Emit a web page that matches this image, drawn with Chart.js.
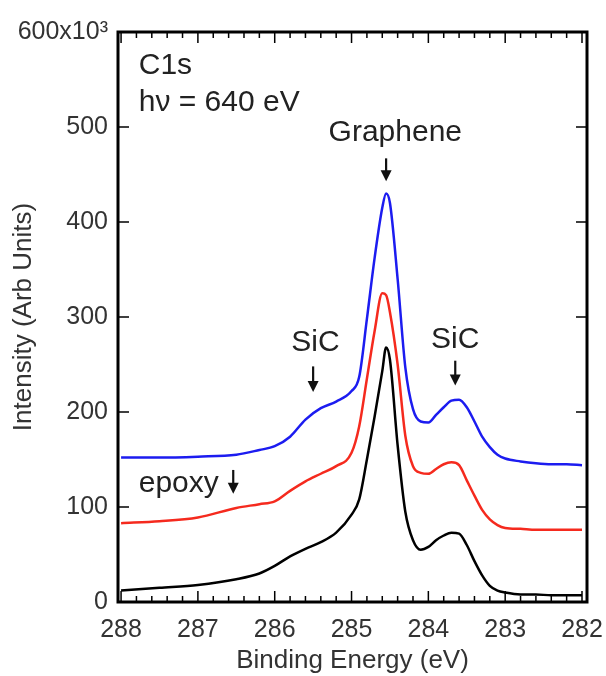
<!DOCTYPE html>
<html lang="en">

<head>
    <meta charset="UTF-8">
    <title>C1s XPS spectra</title>
    <script src="https://cdn.jsdelivr.net/npm/chart.js"></script>
    <style>
        html,
        body {
            margin: 0;
            background: #fff;
            overflow: hidden;
        }

        #wrap {
            width: 606px;
            height: 676px;
        }

        canvas {
            display: block;
        }
    </style>
</head>

<body>
    <div id="wrap"><canvas id="xps-chart"></canvas></div>

    <script>
        // Binding energy (eV) and intensities (x10^3, arb. units)
        const energies = [288, 287.5, 287, 286.5, 286.2, 286, 285.8, 285.6, 285.4, 285.2, 285.0, 284.9, 284.8,
            284.7, 284.6, 284.55, 284.5, 284.4, 284.3, 284.2, 284.1, 284.0, 283.9, 283.8, 283.7, 283.6,
            283.5, 283.4, 283.3, 283.2, 283.1, 283.0, 282.8, 282.6, 282.4, 282.2, 282.0];
        const blueValues = [152, 152, 153, 155, 160, 164, 174, 192, 204, 211, 222, 237, 298,
            362, 415, 430, 420, 340, 247, 203, 190, 189, 197, 205, 212, 213,
            205, 190, 174, 163, 155, 151, 148, 146, 145, 145, 144];
        const redValues = [83, 85, 89, 99, 103, 106, 117, 127, 135, 143, 157, 185, 235,
            285, 325, 323, 305, 250, 175, 143, 136, 135, 140, 145, 147, 144,
            128, 112, 97, 87, 81, 78, 77, 76, 76, 76, 76];
        const blackValues = [12, 15, 18, 24, 30, 38, 48, 56, 63, 73, 92, 108, 150,
            195, 243, 268, 255, 165, 95, 65, 55, 58, 65, 70, 73, 72,
            60, 43, 28, 17, 12, 10, 8, 8, 7, 7, 7];
        const xTicks = [288, 287, 286, 285, 284, 283, 282];
        const yTicks = [0, 100, 200, 300, 400, 500, 600];

        // text labels and arrows, in data units
        const notes = [
            { text: 'C1s', x: 287.77, y: 565, align: 'left' },
            { text: 'h\u03bd = 640 eV', x: 287.77, y: 526, align: 'left' },
            { text: 'Graphene', x: 284.43, y: 494, align: 'center', arrow: [284.55, 467, 443] },
            { text: 'SiC', x: 285.47, y: 273, align: 'center', arrow: [285.5, 248, 221] },
            { text: 'SiC', x: 283.65, y: 276, align: 'center', arrow: [283.65, 254, 228] },
            { text: 'epoxy', x: 287.77, y: 125, align: 'left', arrow: [286.54, 139, 114] }
        ];

        const pts = (vals) => energies.map((e, i) => ({ x: e, y: vals[i] }));

        // frame with inward ticks on all four sides
        const framePlugin = {
            id: 'frame',
            afterDraw: (chart) => {
                const { ctx, chartArea: a, scales: { x, y } } = chart;
                ctx.save();
                ctx.strokeStyle = '#000';
                ctx.lineWidth = 1.5;
                for (let i = 0; i <= 30; i++) {
                    const px = x.getPixelForValue(282 + i * 0.2);
                    const len = i % 5 === 0 ? 11 : 6;
                    ctx.beginPath();
                    ctx.moveTo(px, a.bottom);
                    ctx.lineTo(px, a.bottom - len);
                    ctx.moveTo(px, a.top);
                    ctx.lineTo(px, a.top + len);
                    ctx.stroke();
                }
                yTicks.forEach(v => {
                    const py = y.getPixelForValue(v);
                    ctx.beginPath();
                    ctx.moveTo(a.left, py);
                    ctx.lineTo(a.left + 11, py);
                    ctx.moveTo(a.right, py);
                    ctx.lineTo(a.right - 11, py);
                    ctx.stroke();
                });
                ctx.lineWidth = 3;
                ctx.strokeRect(a.left, a.top, a.width, a.height);
                ctx.restore();
            }
        };

        const notesPlugin = {
            id: 'notes',
            afterDatasetsDraw: (chart) => {
                const { ctx, scales: { x, y } } = chart;
                ctx.save();
                ctx.fillStyle = '#222';
                ctx.strokeStyle = '#111';
                ctx.font = '30px "Liberation Sans", Arial, sans-serif';
                ctx.textBaseline = 'middle';
                notes.forEach(n => {
                    ctx.textAlign = n.align;
                    ctx.fillText(n.text, x.getPixelForValue(n.x), y.getPixelForValue(n.y));
                    if (n.arrow) {
                        const ax = x.getPixelForValue(n.arrow[0]);
                        const y0 = y.getPixelForValue(n.arrow[1]);
                        const y1 = y.getPixelForValue(n.arrow[2]);
                        ctx.lineWidth = 2.2;
                        ctx.beginPath();
                        ctx.moveTo(ax, y0);
                        ctx.lineTo(ax, y1 - 6);
                        ctx.stroke();
                        ctx.beginPath();
                        ctx.moveTo(ax, y1);
                        ctx.lineTo(ax - 5.5, y1 - 11);
                        ctx.lineTo(ax + 5.5, y1 - 11);
                        ctx.closePath();
                        ctx.fillStyle = '#111';
                        ctx.fill();
                        ctx.fillStyle = '#222';
                    }
                });
                ctx.restore();
            }
        };

        const line = (label, color, vals) => ({
            label: label,
            data: pts(vals),
            borderColor: color,
            borderWidth: 2.5,
            pointRadius: 0,
            fill: false,
            cubicInterpolationMode: 'monotone'
        });

        const fontFamily = '"Liberation Sans", Arial, sans-serif';
        const tickFont = { family: fontFamily, size: 25 };

        var ctx = document.getElementById('xps-chart').getContext('2d');
        var chart = new Chart(ctx, {
            type: 'line',
            data: {
                datasets: [
                    line('blue', '#1c1cf0', blueValues),
                    line('red', '#f52a1e', redValues),
                    line('black', '#000000', blackValues)
                ]
            },
            plugins: [framePlugin, notesPlugin],
            options: {
                responsive: true,
                maintainAspectRatio: false,
                animation: false,
                layout: { padding: { left: 0, right: 19, top: 32, bottom: 0 } },
                plugins: {
                    legend: { display: false },
                    tooltip: { enabled: false }
                },
                scales: {
                    x: {
                        type: 'linear',
                        reverse: true,
                        min: 281.935,
                        max: 288.04,
                        afterFit: (s) => {
                            s.height = 74;
                            s.paddingLeft = 0;
                            s.paddingRight = 0;
                        },
                        afterBuildTicks: (s) => { s.ticks = xTicks.map(v => ({ value: v })); },
                        grid: { display: false, drawTicks: false },
                        border: { display: false },
                        ticks: { color: '#333', font: tickFont, padding: 13, maxRotation: 0 },
                        title: {
                            display: true,
                            text: 'Binding Energy (eV)',
                            color: '#333',
                            font: { family: fontFamily, size: 26 },
                            padding: { top: 0, bottom: 0 }
                        }
                    },
                    y: {
                        min: 0,
                        max: 600,
                        afterFit: (s) => {
                            s.width = 118;
                            s.paddingTop = 0;
                            s.paddingBottom = 0;
                        },
                        afterBuildTicks: (s) => { s.ticks = yTicks.map(v => ({ value: v })); },
                        grid: { display: false, drawTicks: false },
                        border: { display: false },
                        ticks: {
                            color: '#333',
                            font: tickFont,
                            padding: 10,
                            callback: (v) => v === 600 ? '600x10\u00b3' : v
                        },
                        title: {
                            display: true,
                            text: 'Intensity (Arb Units)',
                            color: '#333',
                            font: { family: fontFamily, size: 26 },
                            padding: { top: 8, bottom: 0 }
                        }
                    }
                }
            }
        });
    </script>
</body>

</html>
